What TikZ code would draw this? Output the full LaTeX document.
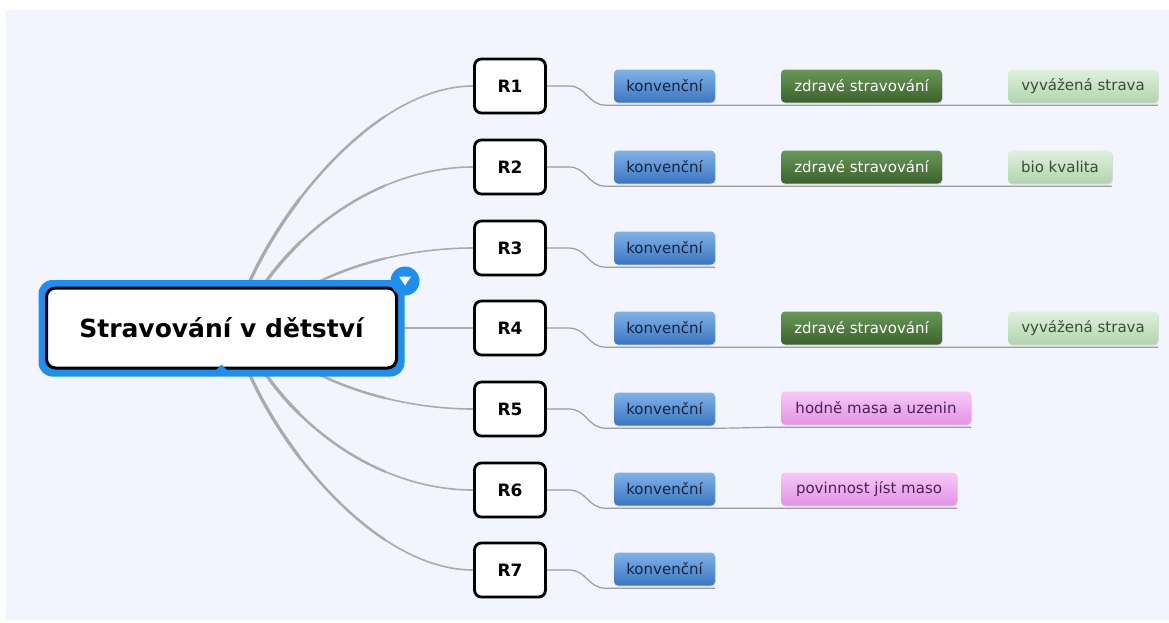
\documentclass[tikz,border=0pt]{standalone}
\usepackage{fontspec}
\setmainfont{DejaVu Sans}
\usetikzlibrary{shadows}

\definecolor{paper}{HTML}{F2F5FD}
\definecolor{trunkgray}{HTML}{ABABAB}
\definecolor{linkgray}{HTML}{9C9C9C}
\definecolor{selblue}{HTML}{1E8FEE}
\definecolor{kvTop}{HTML}{80B2E6}
\definecolor{kvBot}{HTML}{3A76C2}
\definecolor{kvText}{HTML}{17243F}
\definecolor{dgTop}{HTML}{699858}
\definecolor{dgBot}{HTML}{3A632B}
\definecolor{lgTop}{HTML}{DFF1DC}
\definecolor{lgBot}{HTML}{B2D5AD}
\definecolor{lgText}{HTML}{3C4A3C}
\definecolor{pkTop}{HTML}{F7C9F7}
\definecolor{pkBot}{HTML}{E293E6}
\definecolor{pkText}{HTML}{4A2352}

\pgfdeclarelayer{back}
\pgfdeclarelayer{wires}
\pgfdeclarelayer{frame}
\pgfsetlayers{back,wires,frame,main}

% the seven branches leaving the central topic
\newcommand\trunkpaths[1]{%
  \draw[trunk,line width=#1] ([xshift=26pt]root.north) .. controls (285,200) and (380,86) .. (r1.west);
  \draw[trunk,line width=#1] ([xshift=41pt]root.north) .. controls (310,218) and (390,167) .. (r2.west);
  \draw[trunk,line width=#1] ([xshift=88pt]root.north) .. controls (355,262) and (415,248) .. (r3.west);
  \draw[trunk,line width=#1] (root.east) -- (r4.west);
  \draw[trunk,line width=#1] ([xshift=88pt]root.south) .. controls (355,394) and (415,409) .. (r5.west);
  \draw[trunk,line width=#1] ([xshift=41pt]root.south) .. controls (310,440) and (390,490) .. (r6.west);
  \draw[trunk,line width=#1] ([xshift=26pt]root.south) .. controls (285,457) and (380,570) .. (r7.west);
}

\begin{document}
\begin{tikzpicture}[x=1pt,y=-1pt,
  trunk/.style={draw=trunkgray,line cap=round},
  link/.style={draw=linkgray,line width=1.2pt},
  roottopic/.style={draw=black,line width=3pt,fill=white,rounded corners=9pt,
    minimum width=350pt,minimum height=80pt,font=\fontsize{25}{30}\selectfont\bfseries},
  rbox/.style={draw=black,line width=2.8pt,fill=white,rounded corners=7pt,
    minimum width=71pt,minimum height=54pt,font=\fontsize{17}{20}\selectfont\bfseries,
    drop shadow={shadow xshift=1.2pt,shadow yshift=-1.4pt,opacity=0.22}},
  topic/.style={rounded corners=4pt,minimum height=33pt,inner xsep=0pt,
    font=\fontsize{15}{18}\selectfont,
    drop shadow={shadow xshift=0.8pt,shadow yshift=-1.2pt,opacity=0.22}},
  conv/.style={topic,top color=kvTop,bottom color=kvBot,text=kvText,minimum width=101pt},
  healthy/.style={topic,top color=dgTop,bottom color=dgBot,text=white,minimum width=#1},
  mild/.style={topic,top color=lgTop,bottom color=lgBot,text=lgText,minimum width=#1},
  meat/.style={topic,top color=pkTop,bottom color=pkBot,text=pkText,minimum width=#1},
  under/.style={yshift=-2.5pt}
]
\useasboundingbox (0,0) rectangle (1169,622);
\begin{pgfonlayer}{back}
  \fill[white] (0,0) rectangle (1169,622);
  \fill[paper] (6,10) rectangle (1169,620);
\end{pgfonlayer}

% central topic
\node[roottopic] (root) at (221.5,328) {Stravování v dětství};

% first level
\node[rbox] (r1) at (510,86)  {R1};
\node[rbox] (r2) at (510,167) {R2};
\node[rbox] (r3) at (510,248) {R3};
\node[rbox] (r4) at (510,328) {R4};
\node[rbox] (r5) at (510,409) {R5};
\node[rbox] (r6) at (510,490) {R6};
\node[rbox] (r7) at (510,570) {R7};

% second and third level
\node[conv] (k1) at (664.5,86)  {konvenční};
\node[conv] (k2) at (664.5,167) {konvenční};
\node[conv] (k3) at (664.5,248) {konvenční};
\node[conv] (k4) at (664.5,328) {konvenční};
\node[conv] (k5) at (664.5,409) {konvenční};
\node[conv] (k6) at (664.5,489) {konvenční};
\node[conv] (k7) at (664.5,569) {konvenční};

\node[healthy=161pt] (z1) at (861.5,86)  {zdravé stravování};
\node[healthy=161pt] (z2) at (861.5,167) {zdravé stravování};
\node[healthy=161pt] (z4) at (861.5,328) {zdravé stravování};

\node[mild=150pt] (v1) at (1083,86)  {vyvážená strava};
\node[mild=104pt] (b2) at (1060,167) {bio kvalita};
\node[mild=150pt] (v4) at (1083,328) {vyvážená strava};

\node[meat=190pt] (h5) at (876,408) {hodně masa a uzenin};
\node[meat=176pt] (p6) at (869,489) {povinnost jíst maso};

% selection frame, collapse button and pointer of the central topic
\begin{pgfonlayer}{frame}
  \fill[selblue,rounded corners=14pt]
    ([shift={(-6.5pt,6.5pt)}]root.north west) rectangle ([shift={(6.5pt,-7pt)}]root.south east);
\end{pgfonlayer}
\node[circle,fill=selblue,minimum size=29pt,inner sep=0pt] (toggle) at (405,281) {};
\fill[white] ([shift={(-6pt,4.5pt)}]toggle.center) -- ([shift={(6pt,4.5pt)}]toggle.center)
  -- ([shift={(0pt,-4.5pt)}]toggle.center) -- cycle;
\fill[selblue] ([shift={(-6.5pt,-1.5pt)}]root.south) -- ([shift={(0pt,5pt)}]root.south)
  -- ([shift={(6.5pt,-1.5pt)}]root.south) -- cycle;

% branches, thicker close to the centre
\begin{pgfonlayer}{wires}
  \begin{scope}
    \clip (0,0) rectangle (300,622);
    \trunkpaths{3.2pt}
  \end{scope}
  \begin{scope}
    \clip (0,0) rectangle (385,622);
    \trunkpaths{2.4pt}
  \end{scope}
  \trunkpaths{1.6pt}

  % underlines joining the topics of each row
  \draw[link] (r1.east) -- ++(22,0) .. controls +(18,0) and +(-18,0) .. ([xshift=-8pt,under]k1.south west)
    -- ([under]k1.south east) .. controls +(25,0) and +(-25,0) .. ([under]z1.south west)
    -- ([under]z1.south east) .. controls +(25,0) and +(-25,0) .. ([under]v1.south west)
    -- ([under]v1.south east);
  \draw[link] (r2.east) -- ++(22,0) .. controls +(18,0) and +(-18,0) .. ([xshift=-8pt,under]k2.south west)
    -- ([under]k2.south east) .. controls +(25,0) and +(-25,0) .. ([under]z2.south west)
    -- ([under]z2.south east) .. controls +(25,0) and +(-25,0) .. ([under]b2.south west)
    -- ([under]b2.south east);
  \draw[link] (r3.east) -- ++(22,0) .. controls +(18,0) and +(-18,0) .. ([xshift=-8pt,under]k3.south west)
    -- ([under]k3.south east);
  \draw[link] (r4.east) -- ++(22,0) .. controls +(18,0) and +(-18,0) .. ([xshift=-8pt,under]k4.south west)
    -- ([under]k4.south east) .. controls +(25,0) and +(-25,0) .. ([under]z4.south west)
    -- ([under]z4.south east) .. controls +(25,0) and +(-25,0) .. ([under]v4.south west)
    -- ([under]v4.south east);
  \draw[link] (r5.east) -- ++(22,0) .. controls +(18,0) and +(-18,0) .. ([xshift=-8pt,under]k5.south west)
    -- ([under]k5.south east) .. controls +(25,0) and +(-25,0) .. ([under]h5.south west)
    -- ([under]h5.south east);
  \draw[link] (r6.east) -- ++(22,0) .. controls +(18,0) and +(-18,0) .. ([xshift=-8pt,under]k6.south west)
    -- ([under]k6.south east) .. controls +(25,0) and +(-25,0) .. ([under]p6.south west)
    -- ([under]p6.south east);
  \draw[link] (r7.east) -- ++(22,0) .. controls +(18,0) and +(-18,0) .. ([xshift=-8pt,under]k7.south west)
    -- ([under]k7.south east);
\end{pgfonlayer}
\end{tikzpicture}
\end{document}
